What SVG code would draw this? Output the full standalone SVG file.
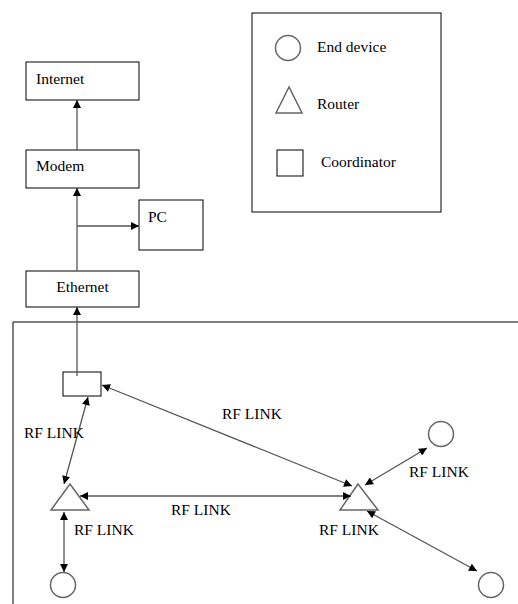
<svg xmlns="http://www.w3.org/2000/svg" width="518" height="604" viewBox="0 0 518 604" font-family="'Liberation Serif', 'DejaVu Serif', serif" font-size="15.5">
<style>
.box{fill:#fff;stroke:#000;stroke-width:1}
.shape{fill:#fff;stroke:#666;stroke-width:1.5}
.ln{stroke:#555;stroke-width:1.3;fill:none}
.a1{marker-end:url(#ah)}
.a2{marker-end:url(#ah);marker-start:url(#ah)}
</style>
<defs>
<marker id="ah" viewBox="0 0 10 10" refX="10" refY="5" markerWidth="9" markerHeight="8" markerUnits="userSpaceOnUse" orient="auto-start-reverse">
<path d="M0,0 L10,5 L0,10 z" fill="#000"/>
</marker>
</defs>
<g id="network-frame"><path class="box" d="M518,322 H13 V604" fill="none"/></g>
<g id="internet"><rect class="box" x="26" y="62" width="113" height="38"/><text x="36" y="84">Internet</text></g>
<g id="modem"><rect class="box" x="26" y="150" width="113" height="38"/><text x="36" y="171">Modem</text></g>
<g id="pc"><rect class="box" x="139" y="200" width="64" height="50"/><text x="148" y="222">PC</text></g>
<g id="ethernet"><rect class="box" x="26" y="271" width="113" height="36"/><text x="82.5" y="292" text-anchor="middle">Ethernet</text></g>
<g id="legend">
<rect class="box" x="252" y="13" width="189" height="199"/>
<circle class="shape" cx="288" cy="48" r="12.5"/>
<text x="317" y="52">End device</text>
<polygon class="shape" points="289,87 276,113 302,113"/>
<text x="317" y="109">Router</text>
<rect class="box" x="277" y="150" width="26" height="26"/>
<text x="321" y="167">Coordinator</text>
</g>
<g id="coordinator"><rect class="box" x="63" y="372" width="38" height="24"/></g>
<g id="router-left"><polygon class="shape" points="70,484 51,510 89,510"/></g>
<g id="router-right"><polygon class="shape" points="358,484 340,510 378,510"/></g>
<g id="end-device-bl"><circle class="shape" cx="63" cy="585" r="12.5"/></g>
<g id="end-device-tr"><circle class="shape" cx="441" cy="434" r="12.5"/></g>
<g id="end-device-br"><circle class="shape" cx="491" cy="585" r="12.5"/></g>
<g id="connectors">
<line class="ln a1" x1="77" y1="150" x2="77" y2="100"/>
<line class="ln a1" x1="77" y1="271" x2="77" y2="188"/>
<line class="ln a1" x1="77" y1="226" x2="139" y2="226"/>
<line class="ln a1" x1="77" y1="376" x2="77" y2="307"/>
<line class="ln a2" x1="64" y1="484" x2="88" y2="397"/>
<line class="ln a2" x1="102" y1="385" x2="352" y2="486"/>
<line class="ln a2" x1="80" y1="496" x2="351" y2="496"/>
<line class="ln a2" x1="64" y1="512" x2="64" y2="572"/>
<line class="ln a2" x1="365" y1="485" x2="427" y2="448"/>
<line class="ln a2" x1="367" y1="511" x2="477" y2="571"/>
</g>
<g id="labels">
<text x="24" y="438">RF LINK</text>
<text x="222" y="419">RF LINK</text>
<text x="409" y="477">RF LINK</text>
<text x="171" y="515">RF LINK</text>
<text x="74" y="535">RF LINK</text>
<text x="319" y="535">RF LINK</text>
</g>
</svg>
